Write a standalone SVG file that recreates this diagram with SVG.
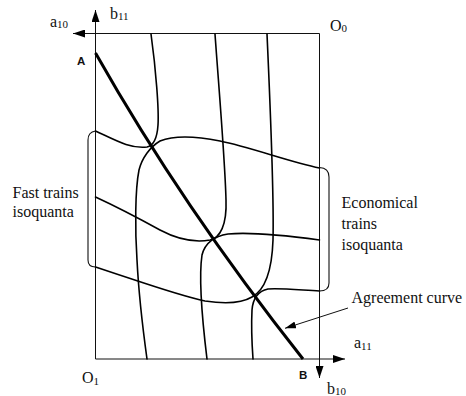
<svg xmlns="http://www.w3.org/2000/svg" width="466" height="396" viewBox="0 0 466 396">
<style>
.ax{stroke:#111;stroke-width:1;fill:none}
.iso{stroke:#000;stroke-width:1.6;fill:none;stroke-linecap:round;stroke-linejoin:round}
.agr{stroke:#000;stroke-width:3;fill:none;stroke-linecap:butt}
.br{stroke:#111;stroke-width:1.1;fill:none}
.t{font-family:"Liberation Serif","Times New Roman",serif;font-size:16px;fill:#111}
.s{font-size:11px}
.pt{font-family:"Liberation Sans",Arial,sans-serif;font-weight:bold;font-size:11.5px;fill:#111}
</style>
<defs>
<marker id="arr" viewBox="0 0 12 8" refX="12" refY="4" markerWidth="12" markerHeight="8" markerUnits="userSpaceOnUse" orient="auto">
<path d="M0,0 L12,4 L0,8 z" fill="#000"/>
</marker>
<marker id="arr2" viewBox="0 0 11 7" refX="11" refY="3.5" markerWidth="11" markerHeight="7" markerUnits="userSpaceOnUse" orient="auto">
<path d="M0,0 L11,3.5 L0,7 z" fill="#000"/>
</marker>
</defs>
<g id="connectors">
<line class="ax" x1="95.5" y1="359" x2="95.5" y2="10" marker-end="url(#arr)"/>
<line class="ax" x1="319.5" y1="33.5" x2="73" y2="33.5" marker-end="url(#arr)"/>
<line class="ax" x1="95.5" y1="359" x2="345" y2="359" marker-end="url(#arr)"/>
<line class="ax" x1="319.5" y1="33.5" x2="319.5" y2="378" marker-end="url(#arr)"/>
<line class="ax" x1="348" y1="308" x2="285" y2="328.3" marker-end="url(#arr2)"/>
</g>
<g id="isoquanta">
<path class="iso" d="M151,34 C156,70 159,110 158,125 C157,140 152,146 147,147 C130,149 115,140 95.5,131"/>
<path class="iso" d="M319.5,168 C290,162 250,147 220,141 C195,136 175,135 160,141 C150,147 142,158 139,170 C135,190 135,230 137,260 C139,300 143,330 147,359"/>
<path class="iso" d="M215,34 C219,90 225,160 226,200 C227,225 220,238 210,240 C193,243 175,238 160,230 C140,219 115,206 95.5,197"/>
<path class="iso" d="M319.5,240 C290,236 250,232 228,234 C215,236 205,243 202,255 C199,275 201,310 207,359"/>
<path class="iso" d="M267,34 C270,100 274,200 273,240 C272,270 265,290 252,297 C242,303 225,304 205,301 C180,296 150,285 95.5,267"/>
<path class="iso" d="M319.5,291 C300,290 280,288 268,289 C258,291 253,298 252,310 C251,330 252,345 253,359"/>
</g>
<g id="brackets">
<path class="br" d="M95.5,131 Q88,132 88,140 L88,260 Q88,267 95.5,267"/>
<path class="br" d="M319.5,167.5 Q329,168 329,177 L329,283 Q329,291 319.5,291"/>
</g>
<g id="agreement-curve">
<path class="agr" d="M95.5,53 C152,153 223,258 303,359"/>
</g>
<g id="labels">
<text class="t" x="50" y="26.5">a<tspan class="s" dy="1.5">10</tspan></text>
<text class="t" x="110" y="18.5">b<tspan class="s" dy="1.5">11</tspan></text>
<text class="t" x="330" y="30.5">O<tspan class="s" dy="1.5">0</tspan></text>
<text class="t" x="82" y="383">O<tspan class="s" dy="1.5">1</tspan></text>
<text class="t" x="354" y="348">a<tspan class="s" dy="1.5">11</tspan></text>
<text class="t" x="327" y="393.5">b<tspan class="s" dy="1.5">10</tspan></text>
<text class="pt" x="77" y="65">A</text>
<text class="pt" x="299" y="379">B</text>
<text class="t" x="12.5" y="198.3">Fast trains</text>
<text class="t" x="12.5" y="216.7">isoquanta</text>
<text class="t" x="341.5" y="208.3">Economical</text>
<text class="t" x="341.5" y="229">trains</text>
<text class="t" x="341.5" y="249.5">isoquanta</text>
<text class="t" x="351.5" y="303.3">Agreement curve</text>
</g>
</svg>
